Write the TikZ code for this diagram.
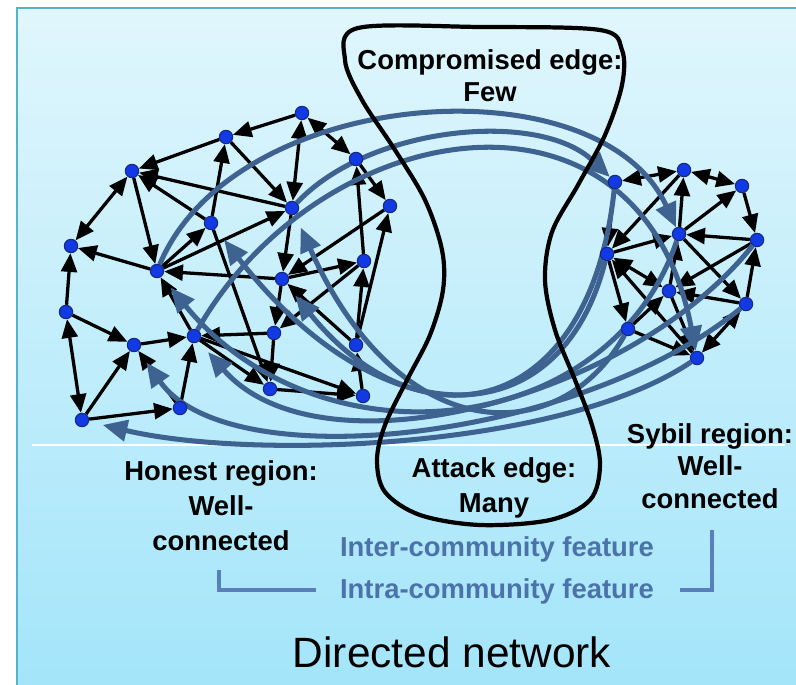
\documentclass[tikz,border=0pt]{standalone}
\usepackage{fontspec}
\setmainfont{Liberation Sans}
\usetikzlibrary{arrows.meta}
\pgfdeclarelayer{backdrop}
\pgfdeclarelayer{wires}
\pgfsetlayers{backdrop,wires,main}

\definecolor{paneltop}{RGB}{224,246,252}
\definecolor{panelbottom}{RGB}{163,229,250}
\definecolor{panelrim}{RGB}{82,180,204}
\definecolor{vtxfill}{RGB}{18,58,228}
\definecolor{vtxrim}{RGB}{22,40,130}
\definecolor{crossblue}{RGB}{62,99,145}
\definecolor{featblue}{RGB}{76,114,170}
\definecolor{bracketblue}{RGB}{88,128,188}

\newcommand\lblfont[1]{\fontsize{23.4}{#1}\selectfont\bfseries}

\begin{document}
\begin{tikzpicture}[x=0.03cm, y=-0.03cm,
  vtx/.style={circle, fill=vtxfill, draw=vtxrim, line width=0.9pt, inner sep=0pt, minimum size=11.4pt},
  link/.style={-{Triangle[length=16pt,width=13.5pt]}, line width=2.8pt, draw=black},
  duplex/.style={{Triangle[length=16pt,width=13.5pt]}-{Triangle[length=16pt,width=13.5pt]}, line width=2.8pt, draw=black},
  xlink/.style={-{Triangle[length=21pt,width=18pt]}, line width=4.3pt, draw=crossblue},
  xin/.style={xlink, shorten >=12pt},
  waist/.style={draw=black, line width=3.6pt},
  bracket/.style={draw=bracketblue, line width=3.4pt},
]
\useasboundingbox (0,0) rectangle (796,685);

% panel background
\begin{pgfonlayer}{backdrop}
  \fill[white] (0,0) rectangle (796,685);
  \shade[top color=paneltop, bottom color=panelbottom] (17,8) rectangle (800,690);
  \draw[panelrim, line width=2pt] (17,690) -- (17,8) -- (800,8);
  \draw[white, line width=1pt] (32,445) -- (785,445);
\end{pgfonlayer}

% honest region vertices
\node[vtx] (h1) at (302,113) {};
\node[vtx] (h2) at (226,137) {};
\node[vtx] (h3) at (132,171) {};
\node[vtx] (h4) at (356,159) {};
\node[vtx] (h5) at (292,208) {};
\node[vtx] (h6) at (390,206) {};
\node[vtx] (h7) at (211,223) {};
\node[vtx] (h8) at (71,246) {};
\node[vtx] (h9) at (157,271) {};
\node[vtx] (h10) at (364,261) {};
\node[vtx] (h11) at (282,279) {};
\node[vtx] (h12) at (66,312) {};
\node[vtx] (h13) at (194,336) {};
\node[vtx] (h14) at (274,333) {};
\node[vtx] (h15) at (356,345) {};
\node[vtx] (h16) at (134,345) {};
\node[vtx] (h17) at (270,389) {};
\node[vtx] (h18) at (363,396) {};
\node[vtx] (h19) at (180,408) {};
\node[vtx] (h20) at (82,420) {};

% sybil region vertices
\node[vtx] (s1) at (615,182) {};
\node[vtx] (s2) at (684,170) {};
\node[vtx] (s3) at (742,186) {};
\node[vtx] (s4) at (679,234) {};
\node[vtx] (s5) at (757,240) {};
\node[vtx] (s6) at (607,254) {};
\node[vtx] (s7) at (669,291) {};
\node[vtx] (s8) at (746,304) {};
\node[vtx] (s9) at (628,329) {};
\node[vtx] (s10) at (697,358) {};

\begin{pgfonlayer}{wires}
  % edges inside the honest region
  \foreach \a/\b in {h1/h2, h2/h3, h2/h5, h7/h2, h5/h3, h7/h3, h3/h9, h9/h8,
                     h9/h5, h9/h7, h12/h8, h12/h16, h20/h16, h20/h19, h19/h16,
                     h19/h13, h16/h13, h13/h9, h11/h9, h14/h13, h13/h18, h13/h17,
                     h17/h18, h18/h15, h5/h11, h6/h11, h11/h10, h4/h6, h10/h4,
                     h15/h10, h15/h6, h11/h14, h10/h14, h15/h11, h7/h17, h14/h17}
    \draw[link] (\a) -- (\b);
  \foreach \a/\b in {h1/h4, h1/h5, h3/h8, h12/h20}
    \draw[duplex] (\a) -- (\b);

  % edges inside the sybil region
  \foreach \a/\b in {s3/s5, s4/s2, s4/s3, s5/s4, s2/s6, s1/s6, s6/s4, s4/s8,
                     s5/s7, s8/s5, s8/s7, s6/s9, s10/s6, s9/s7, s7/s4, s9/s10, s7/s10}
    \draw[link] (\a) -- (\b);
  \foreach \a/\b in {s1/s2, s2/s3, s6/s7, s8/s10}
    \draw[duplex] (\a) -- (\b);

  % compromised edges: honest -> sybil
  \draw[xlink] (h9) .. controls (235,85) and (600,60) .. (s4);
  \draw[xlink] (h5) .. controls (370,125) and (540,110) .. (s1);
  \draw[xlink] (h13) .. controls (320,115) and (640,60) .. (s10);

  % attack edges: sybil -> honest
  \draw[xin] (s10) .. controls (560,450) and (250,460) .. (h20);
  \draw[xin] (s8) .. controls (580,440) and (230,480) .. (h16);
  \draw[xin] (s5) .. controls (630,400) and (320,480) .. (h13);
  \draw[xin] (s4) .. controls (610,440) and (320,470) .. (h9);
  \draw[xin] (s6) .. controls (560,440) and (380,440) .. (h7);
  \draw[xin] (s9) .. controls (560,450) and (400,450) .. (h5);
  \draw[xin] (s1) .. controls (590,420) and (420,450) .. (h11);

  % hourglass separating the two regions
  \draw[waist] plot[smooth cycle, tension=0.55] coordinates {
    (358,28) (480,27) (600,30) (622,50) (622,85) (605,135) (578,185)
    (552,232) (545,280) (555,330) (575,380) (592,425) (600,465) (590,500)
    (550,520) (480,525) (420,515) (385,492) (377,460) (385,425) (407,380)
    (430,335) (443,290) (442,250) (425,200) (395,150) (362,100) (345,60)};
\end{pgfonlayer}

% labels
\node[font=\lblfont{27}, align=center] (few) at (490,76) {Compromised edge:\\Few};
\node[font=\lblfont{30}, align=center] (atk) at (494,488) {Attack edge:\\Many};
\node[font=\lblfont{30}, align=center] (hon) at (221,506) {Honest region:\\Well-\\connected};
\node[font=\lblfont{27.6}, align=center] (syb) at (710,466) {Sybil region:\\Well-\\connected};
\node[font=\lblfont{30}, text=featblue] (inter) at (497,549) {Inter-community feature};
\node[font=\lblfont{30}, text=featblue] (intra) at (497,591) {Intra-community feature};
\node[font=\fontsize{36.2}{40}\selectfont] (dn) at (452,652) {Directed network};

% brackets tying the features to the regions
\draw[bracket] (219,570) -- (219,590) -- (316,590);
\draw[bracket] (680,590) -- (712,590) -- (712,530);
\end{tikzpicture}
\end{document}
